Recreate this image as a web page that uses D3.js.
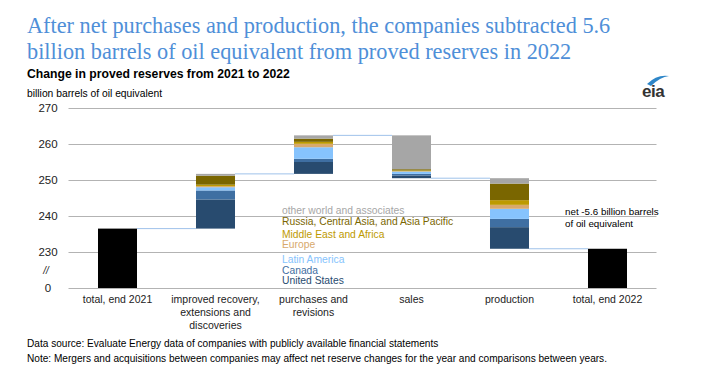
<!DOCTYPE html>
<html lang="en">
<head>
<meta charset="utf-8">
<title>Proved reserves 2021-2022</title>
<script src="https://d3js.org/d3.v7.min.js"></script>
<style>
  body { margin: 0; background: #fff; }
  svg { display: block; font-family: "Liberation Sans", Arial, sans-serif; }
</style>
</head>
<body>
<script>
// categories along the x axis (label lines)
var categories = ["total, end 2021", "improved recovery, extensions and discoveries",
                  "purchases and revisions", "sales", "production", "total, end 2022"];
var categoryLines = [["total, end 2021"], ["improved recovery,", "extensions and", "discoveries"],
                     ["purchases and", "revisions"], ["sales"], ["production"], ["total, end 2022"]];

// regions, stacked bottom to top
var regions = ["United States", "Canada", "Latin America", "Europe",
               "Middle East and Africa", "Russia, Central Asia, and Asia Pacific", "other world and associates"];
var regionColors = ["#284b6f", "#3f6fa2", "#86c3fd", "#d8a96c", "#bd9a00", "#7a6600", "#a6a6a6"];

// totals (billion barrels of oil equivalent)
var total2021 = 236.5;
var total2022 = 230.9;

// changes by region for each flow category (absolute size, sign below)
var improved  = [8.1, 2.5, 0.9, 0.3, 0.4, 2.5, 0.5];
var purchases = [3.3, 0.9, 3.2, 0.95, 0.55, 0.9, 0.9];
var sales     = [0.75, 0.45, 0.65, 0.1, 0.2, 0.35, 9.4];
var production = [6.0, 2.3, 2.8, 1.1, 1.3, 4.6, 1.5];
var flowSigns = [1, 1, -1, -1];

var yTicks = [220, 230, 240, 250, 260, 270];
var yTickLabels = ["0", "230", "240", "250", "260", "270"];

var width = 718, height = 388;
var svg = d3.select("body").append("svg").attr("width", width).attr("height", height);

// title
var title = svg.append("text")
  .attr("font-family", "'Liberation Serif', 'Times New Roman', serif")
  .attr("font-size", 22.3).attr("fill", "#4f8fd8");
title.append("tspan").attr("x", 27).attr("y", 33)
  .text("After net purchases and production, the companies subtracted 5.6");
title.append("tspan").attr("x", 27).attr("y", 59)
  .text("billion barrels of oil equivalent from proved reserves in 2022");

svg.append("text").attr("x", 27).attr("y", 78).attr("font-size", 12.2)
  .attr("font-weight", "bold").attr("fill", "#000")
  .text("Change in proved reserves from 2021 to 2022");
svg.append("text").attr("x", 27).attr("y", 97).attr("font-size", 10.3).attr("fill", "#000")
  .text("billion barrels of oil equivalent");

// eia logo
svg.append("text").attr("x", 642).attr("y", 97).attr("font-size", 17)
  .attr("font-weight", "bold").attr("fill", "#333").attr("letter-spacing", -0.5).text("eia");
svg.append("path").attr("d", "M647,84 Q657,74 669,76 Q660,77 651,86 Z").attr("fill", "#2e86c8");

// scales
var x = d3.scaleBand().domain(categories).range([68.5, 656.5])
  .paddingInner(0.602).paddingOuter(0.301);
var y = d3.scaleLinear().domain([220, 270]).range([288, 108]);

// gridlines
svg.append("g").selectAll("line").data(yTicks).enter().append("line")
  .attr("x1", 68.5).attr("x2", 656.5)
  .attr("y1", function(d){ return Math.round(y(d)) + 0.5; })
  .attr("y2", function(d){ return Math.round(y(d)) + 0.5; })
  .attr("stroke", "#b3b3b3").attr("stroke-width", 1);

// y tick labels
svg.append("g").selectAll("text").data(yTicks).enter().append("text")
  .attr("x", 48).attr("y", function(d){ return y(d); }).attr("dy", "0.36em")
  .attr("text-anchor", "middle").attr("font-size", 11.5).attr("fill", "#222")
  .text(function(d, i){ return yTickLabels[i]; });
svg.append("text").attr("x", 46).attr("y", y(225)).attr("dy", "0.36em")
  .attr("text-anchor", "middle").attr("font-size", 10).attr("font-style", "italic")
  .attr("fill", "#222").text("//");

// build waterfall segments
var flows = [improved, purchases, sales, production];
var segments = [];
var levels = [total2021];
var level = total2021;
flows.forEach(function(vals, fi){
  var sum = d3.sum(vals);
  var next = level + flowSigns[fi] * sum;
  var base = Math.min(level, next);
  vals.forEach(function(v, ri){
    segments.push({cat: categories[fi + 1], y0: base, y1: base + v, color: regionColors[ri]});
    base += v;
  });
  level = next;
  levels.push(level);
});

// connector lines
svg.append("g").selectAll("line").data(levels).enter().append("line")
  .attr("x1", function(d, i){ return x(categories[i]) + x.bandwidth(); })
  .attr("x2", function(d, i){ return x(categories[i + 1]); })
  .attr("y1", function(d){ return y(d); })
  .attr("y2", function(d){ return y(d); })
  .attr("stroke", "#9fc2ea").attr("stroke-width", 1);

// total bars
var totals = [{cat: categories[0], v: total2021}, {cat: categories[5], v: total2022}];
svg.append("g").selectAll("rect").data(totals).enter().append("rect")
  .attr("x", function(d){ return x(d.cat); })
  .attr("width", x.bandwidth())
  .attr("y", function(d){ return y(d.v); })
  .attr("height", function(d){ return y(220) - y(d.v); })
  .attr("fill", "#000");

// stacked flow bars
svg.append("g").selectAll("rect").data(segments).enter().append("rect")
  .attr("x", function(d){ return x(d.cat); })
  .attr("width", x.bandwidth())
  .attr("y", function(d){ return y(d.y1); })
  .attr("height", function(d){ return y(d.y0) - y(d.y1); })
  .attr("fill", function(d){ return d.color; });

// category labels
var catG = svg.append("g").selectAll("text").data(categories).enter().append("text")
  .attr("text-anchor", "middle").attr("font-size", 10.5).attr("fill", "#222");
catG.each(function(d, i){
  var t = d3.select(this);
  categoryLines[i].forEach(function(line, li){
    t.append("tspan").attr("x", x(d) + x.bandwidth() / 2).attr("y", 303 + li * 13).text(line);
  });
});

// legend labels (top to bottom)
var legendY = [214, 224.5, 237.5, 247.5, 262.5, 273.5, 283.5];
svg.append("g").selectAll("text").data(regions.slice().reverse()).enter().append("text")
  .attr("x", 282).attr("y", function(d, i){ return legendY[i]; })
  .attr("font-size", 10.3)
  .attr("fill", function(d, i){ return regionColors[regionColors.length - 1 - i]; })
  .text(function(d){ return d; });

// net annotation
svg.append("text").attr("x", 565).attr("y", 215).attr("font-size", 9.8).attr("fill", "#000")
  .text("net -5.6 billion barrels");
svg.append("text").attr("x", 565).attr("y", 226.5).attr("font-size", 9.8).attr("fill", "#000")
  .text("of oil equivalent");

// footnotes
svg.append("text").attr("x", 27).attr("y", 347).attr("font-size", 10.1).attr("fill", "#000")
  .text("Data source: Evaluate Energy data of companies with publicly available financial statements");
svg.append("text").attr("x", 27).attr("y", 362).attr("font-size", 10.1).attr("fill", "#000")
  .text("Note: Mergers and acquisitions between companies may affect net reserve changes for the year and comparisons between years.");
</script>
</body>
</html>
